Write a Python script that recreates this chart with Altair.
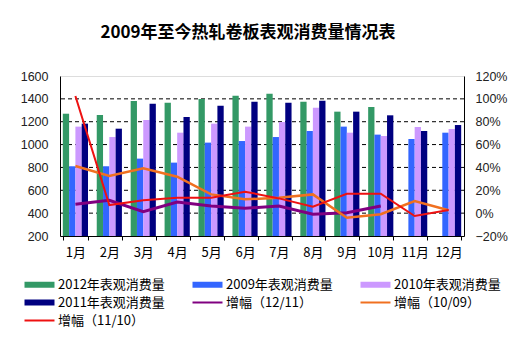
import altair as alt
import pandas as pd

months = ["1月", "2月", "3月", "4月", "5月", "6月", "7月", "8月", "9月", "10月", "11月", "12月"]

bar_series = ["2012年表观消费量", "2009年表观消费量", "2010年表观消费量", "2011年表观消费量"]
line_series = ["增幅（12/11）", "增幅（10/09）", "增幅（11/10）"]
all_series = bar_series + line_series
colors = ["#339966", "#3366FF", "#CC99FF", "#000080", "#800080", "#F07020", "#EE1111"]

v2012 = [1270, 1259, 1381, 1367, 1399, 1428, 1445, 1375, 1288, 1329, None, None]
v2009 = [810, 810, 877, 842, 1017, 1031, 1066, 1119, 1157, 1087, 1049, 1104]
v2010 = [1157, 1066, 1215, 1104, 1183, 1157, 1197, 1323, 1104, 1075, 1154, 1136]
v2011 = [1183, 1139, 1358, 1241, 1340, 1375, 1367, 1384, 1288, 1256, 1119, 1171]

g12_11 = [0.077, 0.112, 0.013, 0.097, 0.062, 0.042, 0.062, -0.010, 0.004, 0.062, None, None]
g10_09 = [0.412, 0.325, 0.392, 0.319, 0.164, 0.121, 0.135, 0.164, -0.040, -0.010, 0.106, 0.025]
g11_10 = [1.025, 0.071, 0.112, 0.135, 0.135, 0.188, 0.129, 0.056, 0.170, 0.170, -0.025, 0.027]

left_ticks = [200, 400, 600, 800, 1000, 1200, 1400, 1600]
grid_values = [400, 600, 800, 1000, 1200, 1400]
right_ticks = [-0.2, 0.0, 0.2, 0.4, 0.6, 0.8, 1.0, 1.2]

bar_rows = []
for name, vals in zip(bar_series, [v2012, v2009, v2010, v2011]):
    for m, v in zip(months, vals):
        if v is not None:
            bar_rows.append({"month": m, "series": name, "value": v})
bar_df = pd.DataFrame(bar_rows)

line_rows = []
for name, vals in zip(line_series, [g12_11, g10_09, g11_10]):
    for m, v in zip(months, vals):
        if v is not None:
            line_rows.append({"month": m, "series": name, "value": v})
line_df = pd.DataFrame(line_rows)

grid_df = pd.DataFrame({"v": grid_values})
legend_df = pd.DataFrame({"series": all_series})

CJK = "Noto Sans CJK SC"
NUM = "Liberation Sans"

# legend symbol shapes: wide rectangle for bars, thin strip for lines
rect_path = "M-1,-0.75H6.5V0.75H-1Z"
line_path = "M-1,-0.25H6.5V0.25H-1Z"
shapes = [rect_path] * len(bar_series) + [line_path] * len(line_series)

legend = alt.Legend(
    title=None,
    orient="none",
    legendX=-38,
    legendY=202,
    direction="horizontal",
    columns=3,
    symbolSize=64,
    symbolStrokeWidth=0,
    symbolOpacity=1,
    labelFont=CJK,
    labelFontSize=13,
    labelColor="black",
    labelOffset=23,
    labelLimit=300,
    columnPadding=25,
    rowPadding=4,
    padding=0,
)

color_scale = alt.Scale(domain=all_series, range=colors)
x_enc = alt.X(
    "month:N",
    sort=months,
    title=None,
    scale=alt.Scale(paddingInner=0.258, paddingOuter=0.083),
    axis=alt.Axis(
        labelAngle=0,
        labelFont=CJK,
        labelFontSize=13,
        labelColor="black",
        labelPadding=6,
        tickBand="extent",
        tickSize=4,
        tickColor="black",
        domainColor="black",
        grid=False,
    ),
)

# invisible layer that carries the combined legend (colour + symbol shape)
legend_layer = alt.Chart(legend_df).mark_point(filled=True, opacity=0).encode(
    color=alt.Color("series:N", scale=color_scale, legend=legend),
    shape=alt.Shape("series:N", scale=alt.Scale(domain=all_series, range=shapes), legend=legend),
)

grid = alt.Chart(grid_df).mark_rule(color="black", strokeWidth=1, strokeDash=[4, 3]).encode(
    y=alt.Y("v:Q", scale=alt.Scale(domain=[200, 1600], nice=False, zero=False), axis=None)
)

bars = alt.Chart(bar_df).mark_bar().encode(
    x=x_enc,
    xOffset=alt.XOffset("series:N", sort=bar_series, scale=alt.Scale(paddingInner=0, paddingOuter=0)),
    y=alt.Y(
        "value:Q",
        title=None,
        scale=alt.Scale(domain=[200, 1600], nice=False, zero=False),
        axis=alt.Axis(
            orient="left",
            values=left_ticks,
            format="d",
            ticks=False,
            grid=False,
            domainColor="black",
            labelFont=NUM,
            labelFontSize=12.5,
            labelColor="#222",
            labelPadding=12,
        ),
    ),
    y2=alt.datum(200),
    color=alt.Color("series:N", scale=color_scale, legend=legend),
)

lines = alt.Chart(line_df).mark_line().encode(
    x=alt.X("month:N", sort=months),
    y=alt.Y(
        "value:Q",
        title=None,
        scale=alt.Scale(domain=[-0.2, 1.2], nice=False, zero=False),
        axis=alt.Axis(
            orient="right",
            values=right_ticks,
            format=".0%",
            ticks=False,
            grid=False,
            domainColor="black",
            labelFont=NUM,
            labelFontSize=12.5,
            labelColor="#222",
            labelPadding=11,
        ),
    ),
    color=alt.Color("series:N", scale=color_scale, legend=legend),
    strokeWidth=alt.StrokeWidth("series:N", scale=alt.Scale(domain=line_series, range=[3, 2, 2]), legend=None),
)

chart = (
    alt.layer(legend_layer, grid, bars, lines)
    .resolve_scale(y="independent")
    .properties(
        width=404,
        height=160,
        padding={"left": 60, "top": 76, "right": 65, "bottom": 104},
        autosize=alt.AutoSizeParams(type="none"),
        title=alt.TitleParams(
            "2009年至今热轧卷板表观消费量情况表",
            font=CJK,
            fontSize=17,
            fontWeight="bold",
            color="black",
            anchor="middle",
            dx=-14,
            offset=28,
        ),
    )
    .configure_view(stroke=None)
    .configure(background="white")
)

chart.save("out.html", embed_options={"renderer": "svg", "actions": False})
